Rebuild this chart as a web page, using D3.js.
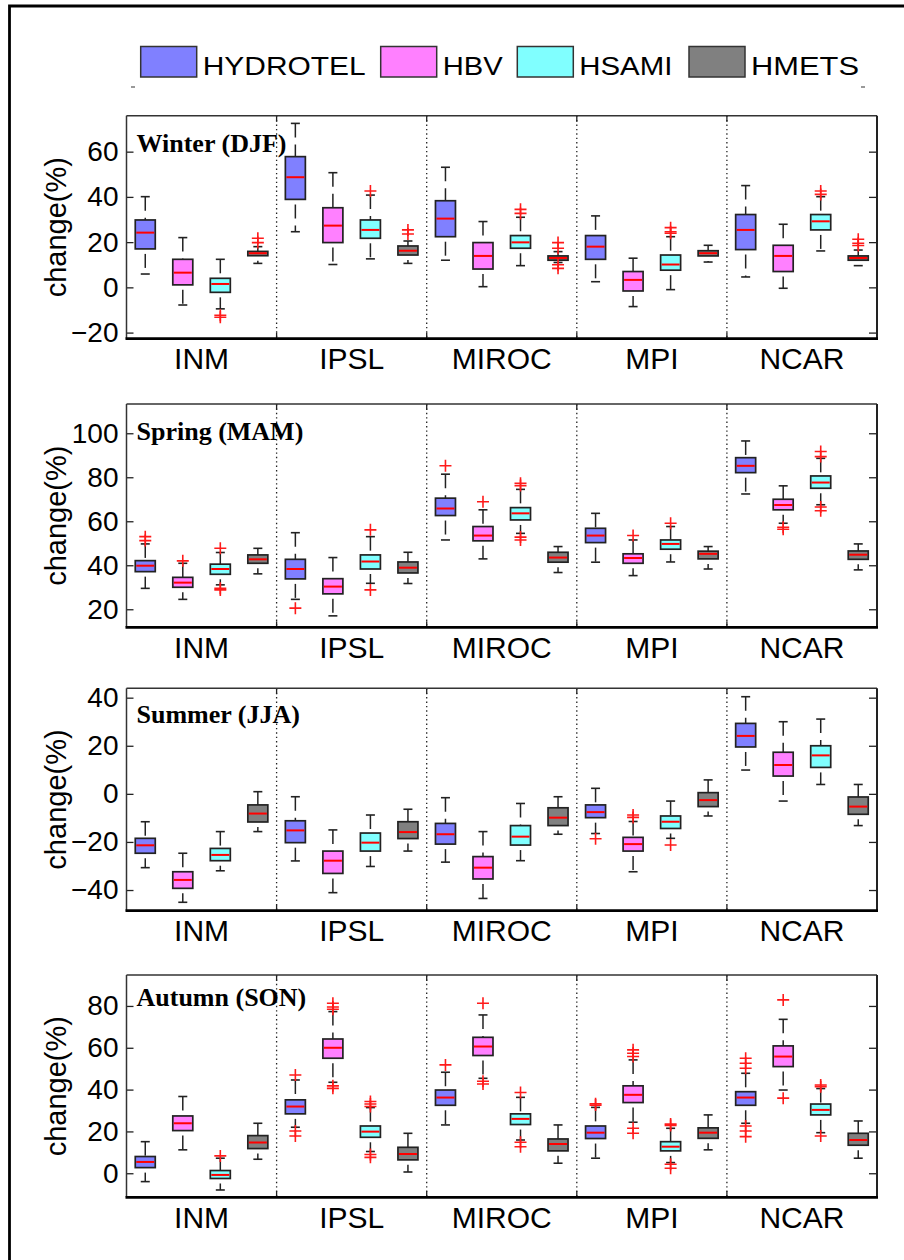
<!DOCTYPE html>
<html><head><meta charset="utf-8">
<script src="https://cdn.jsdelivr.net/npm/d3@7"></script>
<style>body{margin:0;background:#fff}</style>
</head><body><script>
// ---------- DATA ----------
const gcms = ["INM","IPSL","MIROC","MPI","NCAR"];
const hydros = ["HYDROTEL","HBV","HSAMI","HMETS"];
const hydroColors = ["#8080ff","#ff80ff","#80ffff","#808080"];
const seasonTitles = ["Winter (DJF)","Spring (MAM)","Summer (JJA)","Autumn (SON)"];
const winterTicks = [-20,0,20,40,60];
const springTicks = [20,40,60,80,100];
const summerTicks = [-40,-20,0,20,40];
const autumnTicks = [0,20,40,60,80];
const yLabel = "change(%)";
// each entry: [lower whisker, q1, median, q3, upper whisker, outliers]; order: GCM then hydro model
const winter = [
  [5.9,17.0,24.2,29.8,40.1,[]],[-7.8,1.1,6.5,12.4,22.0,[]],[-9.5,-2.2,1.5,4.0,12.4,[-12.3,-13.2]],[10.6,14.0,15.1,15.9,18.0,[19.8,21.7]],
  [24.6,38.9,48.7,57.8,72.5,[]],[10.1,19.8,27.3,35.2,50.7,[]],[12.6,21.7,25.4,29.8,40.8,[42.6]],[10.6,14.3,16.2,18.3,20.5,[23.6,25.4]],
  [12.0,22.4,30.4,38.3,53.1,[]],[0.3,8.1,13.9,19.8,29.1,[]],[9.6,17.3,19.9,22.9,31.0,[32.7,34.5]],[11.0,12.0,13.0,13.9,15.8,[17.3,19.8,10.0,8.4]],
  [2.5,12.4,18.0,22.9,31.6,[]],[-8.5,-1.6,3.3,7.0,12.9,[]],[-1.0,7.6,10.1,14.3,22.4,[23.9,24.6,26.4]],[11.2,13.9,15.1,16.2,18.6,[]],
  [4.6,16.7,25.4,32.2,45.0,[]],[-0.4,7.0,13.9,18.6,27.9,[]],[16.1,25.4,29.2,32.2,40.1,[41.1,42.6]],[9.6,12.0,13.0,13.9,16.5,[18.5,19.5,21.3]]
];
const spring = [
  [29.5,37.1,39.8,42.1,49.7,[51.2,53.0]],[24.5,30.0,32.1,34.5,40.9,[42.0]],[31.1,35.9,38.3,40.5,45.8,[47.7,29.5,28.8]],[36.1,40.9,42.7,44.7,47.7,[]],
  [24.5,33.8,38.3,42.7,54.8,[20.5]],[17.0,27.0,30.3,33.9,43.5,[]],[31.8,38.3,41.7,44.7,53.0,[56.1,28.8]],[31.7,36.5,38.9,41.5,45.9,[]],
  [51.5,62.6,65.8,70.5,81.4,[85.2]],[42.9,51.1,53.5,57.6,65.2,[68.9]],[54.5,60.6,63.6,66.2,74.5,[76.2,77.3,52.8,51.5]],[36.7,41.4,43.5,45.9,48.5,[]],
  [41.4,50.3,53.5,56.8,63.6,[]],[35.3,40.9,43.3,45.2,51.5,[53.5]],[41.5,47.3,49.7,51.5,57.6,[59.1]],[38.3,42.9,45.2,46.4,48.5,[]],
  [72.4,82.1,85.2,88.9,96.5,[]],[59.1,65.2,67.4,70.0,76.1,[57.3,56.4]],[67.5,75.0,77.6,80.6,88.6,[89.4,91.7,66.5,64.8]],[37.9,42.7,44.8,46.5,49.7,[]]
];
const summer = [
  [-30.7,-24.7,-21.4,-18.5,-11.6,[]],[-45.1,-39.3,-35.8,-32.4,-24.7,[]],[-32.0,-27.8,-25.4,-22.7,-15.7,[]],[-15.7,-11.7,-8.2,-4.6,0.9,[]],
  [-27.9,-20.3,-15.2,-11.2,-1.2,[]],[-41.1,-33.1,-27.8,-23.8,-15.0,[]],[-30.2,-23.8,-20.3,-16.3,-8.8,[]],[-23.8,-18.6,-15.9,-11.6,-6.4,[]],
  [-28.4,-20.9,-16.8,-12.3,-1.6,[]],[-43.5,-35.4,-30.7,-26.1,-15.7,[]],[-27.8,-21.3,-17.8,-13.2,-4.0,[]],[-16.8,-13.2,-9.9,-5.8,-1.2,[]],
  [-16.5,-9.9,-7.6,-4.6,2.3,[-18.7]],[-32.4,-23.8,-20.9,-18.1,-11.5,[-8.8,-9.8]],[-18.5,-14.4,-11.6,-9.2,-3.0,[-21.3]],[-9.2,-5.3,-2.6,0.5,5.8,[]],
  [9.9,19.5,24.1,29.3,40.4,[]],[-3.0,7.4,12.0,17.3,30.0,[]],[3.9,11.0,16.0,20.0,31.1,[]],[-13.2,-8.5,-5.3,-1.3,3.9,[]]
];
const autumn = [
  [-4.0,2.7,5.4,8.0,15.1,[]],[11.2,20.4,23.9,27.4,36.7,[]],[-8.0,-2.5,-0.8,1.3,7.2,[8.3]],[6.7,11.8,14.7,18.0,23.9,[]],
  [22.0,28.4,31.9,35.1,44.6,[47.0,20.2,17.8]],[43.5,55.0,60.0,64.2,77.3,[78.4,79.5,81.3,41.8,40.6]],[10.4,17.2,19.9,22.6,31.4,[31.9,33.1,34.3,9.0,7.6]],[0.6,6.4,9.2,12.4,19.1,[]],
  [23.1,32.5,36.2,39.8,48.3,[51.8]],[45.4,56.3,60.6,65.0,75.7,[81.3,44.0,42.7]],[15.9,23.3,26.0,28.4,36.3,[38.6,14.8,12.7]],[4.8,10.7,14.0,16.4,23.1,[]],
  [7.2,16.6,19.4,22.6,31.5,[32.6,33.2]],[24.4,33.8,37.5,41.8,54.2,[55.8,57.4,59.0,21.5,19.1]],[5.1,10.7,12.7,15.1,21.5,[22.8,23.5,4.3,2.4]],[11.2,16.7,19.4,21.7,27.9,[]],
  [23.9,32.5,36.2,39.0,47.8,[50.2,52.6,55.0,22.6,20.2,17.5]],[39.8,51.0,55.8,60.9,73.6,[82.9,35.9]],[19.4,27.9,30.3,33.1,40.5,[41.4,42.2,17.8]],[7.2,13.4,15.9,19.1,25.0,[]]
];
const seasonData = [winter, spring, summer, autumn];
const seasonTicks = [winterTicks, springTicks, summerTicks, autumnTicks];
const yDomains = [[-22.7,75.9],[11.8,113.3],[-48.6,43.9],[-11.5,94.8]];

// ---------- LAYOUT ----------
const W = 904, H = 1260;
const plotLeft = 126.5, plotRight = 877;
const panelTops = [115.7, 404, 688.3, 975];
const panelBottoms = [338.7, 627.3, 910.7, 1197.3];
const titleOffsets = [36, 36, 35, 31];
const boxW = 20, capW = 9;
const sansFont = "'Liberation Sans', Arial, Helvetica, sans-serif";
const serifFont = "'Liberation Serif', 'Times New Roman', serif";

const svg = d3.select("body").append("svg")
  .attr("width", W).attr("height", H)
  .style("background", "#fff");

// outer frame (only left & top visible in reference)
svg.append("path").attr("d", `M9.5,${H+5} V6 H${W+5}`)
  .attr("fill","none").attr("stroke","#000").attr("stroke-width",2.8);

// ---------- LEGEND ----------
const legendBoxX = [140.7, 380.7, 517.3, 689];
const legendTextW = [163, 60, 93, 108];
const lg = svg.append("g");
hydros.forEach((h, i) => {
  lg.append("rect").attr("x", legendBoxX[i]).attr("y", 46.5).attr("width", 56).attr("height", 30.5)
    .attr("fill", hydroColors[i]).attr("stroke", "#333").attr("stroke-width", 1.5);
  lg.append("text").attr("x", legendBoxX[i] + 62).attr("y", 75)
    .attr("font-family", sansFont).attr("font-size", 26)
    .attr("textLength", legendTextW[i]).attr("lengthAdjust", "spacingAndGlyphs")
    .attr("fill", "#000").text(h);
});
[[131, 135], [861, 865]].forEach(([a, b]) => {
  lg.append("line").attr("x1", a).attr("x2", b).attr("y1", 87).attr("y2", 87)
    .attr("stroke", "#555").attr("stroke-width", 1.2);
});

// ---------- PANELS ----------
const xGcm = d3.scaleBand().domain(gcms).range([plotLeft, plotRight]).paddingInner(0).paddingOuter(0);
const xHydro = d3.scaleBand().domain(hydros).range([0, xGcm.bandwidth()]).padding(0);

seasonData.forEach((data, p) => {
  const top = panelTops[p], bottom = panelBottoms[p];
  const y = d3.scaleLinear().domain(yDomains[p]).range([bottom, top]);
  const g = svg.append("g");

  // group separators (dotted)
  gcms.slice(1).forEach(gc => {
    const xs = xGcm(gc);
    g.append("line").attr("x1", xs).attr("x2", xs).attr("y1", top).attr("y2", bottom)
      .attr("stroke", "#222").attr("stroke-width", 1.3).attr("stroke-dasharray", "1.4,3");
    g.append("line").attr("x1", xs).attr("x2", xs).attr("y1", bottom).attr("y2", bottom - 6)
      .attr("stroke", "#222").attr("stroke-width", 1.3);
    g.append("line").attr("x1", xs).attr("x2", xs).attr("y1", top).attr("y2", top + 6)
      .attr("stroke", "#222").attr("stroke-width", 1.3);
  });

  // y axes (left with labels, right ticks only)
  const ticks = seasonTicks[p];
  const yl = g.append("g").attr("transform", `translate(${plotLeft},0)`)
    .call(d3.axisLeft(y).tickValues(ticks).tickSizeInner(-7).tickSizeOuter(0).tickPadding(8));
  yl.select(".domain").remove();
  yl.selectAll(".tick line").attr("stroke", "#222").attr("stroke-width", 1.3);
  yl.selectAll(".tick text").attr("font-family", sansFont).attr("font-size", 28).attr("fill", "#000");
  const yr = g.append("g").attr("transform", `translate(${plotRight},0)`)
    .call(d3.axisRight(y).tickValues(ticks).tickSizeInner(-8).tickSizeOuter(0).tickFormat(""));
  yr.select(".domain").remove();
  yr.selectAll(".tick line").attr("stroke", "#222").attr("stroke-width", 1.3);

  // frame
  g.append("line").attr("x1", plotLeft).attr("x2", plotRight).attr("y1", top).attr("y2", top)
    .attr("stroke", "#333").attr("stroke-width", 1.6);
  g.append("line").attr("x1", plotRight).attr("x2", plotRight).attr("y1", top).attr("y2", bottom)
    .attr("stroke", "#222").attr("stroke-width", 2);
  g.append("line").attr("x1", plotLeft).attr("x2", plotLeft).attr("y1", top).attr("y2", bottom)
    .attr("stroke", "#333").attr("stroke-width", 1.5);
  g.append("line").attr("x1", plotLeft - 1).attr("x2", plotRight + 1).attr("y1", bottom).attr("y2", bottom)
    .attr("stroke", "#000").attr("stroke-width", 2.8);

  // x category labels
  gcms.forEach(gc => {
    g.append("text").attr("x", xGcm(gc) + xGcm.bandwidth() / 2).attr("y", bottom + 30.6)
      .attr("text-anchor", "middle").attr("font-family", sansFont).attr("font-size", 30)
      .attr("fill", "#000").text(gc);
  });

  // y label
  const cy = (top + bottom) / 2;
  g.append("text").attr("transform", `translate(66,${cy}) rotate(-90)`)
    .attr("text-anchor", "middle").attr("font-family", sansFont).attr("font-size", 29)
    .attr("fill", "#000").text(yLabel);

  // season title
  g.append("text").attr("x", 136.5).attr("y", top + titleOffsets[p])
    .attr("font-family", serifFont).attr("font-weight", "bold").attr("font-size", 26)
    .attr("fill", "#000").text(seasonTitles[p]);

  // boxes
  data.forEach((d, k) => {
    const gc = gcms[Math.floor(k / 4)], hi = k % 4;
    const cx = xGcm(gc) + xHydro(hydros[hi]) + xHydro.bandwidth() / 2;
    const [lo, q1, med, q3, up, outs] = d;
    const bg = g.append("g");
    // whiskers
    bg.append("line").attr("x1", cx).attr("x2", cx).attr("y1", y(up)).attr("y2", y(q3))
      .attr("stroke", "#222").attr("stroke-width", 1.5).attr("stroke-dasharray", "14,7");
    bg.append("line").attr("x1", cx).attr("x2", cx).attr("y1", y(q1)).attr("y2", y(lo))
      .attr("stroke", "#222").attr("stroke-width", 1.5).attr("stroke-dasharray", "14,7").attr("stroke-dashoffset", 16);
    [up, lo].forEach(v => {
      bg.append("line").attr("x1", cx - capW / 2).attr("x2", cx + capW / 2).attr("y1", y(v)).attr("y2", y(v))
        .attr("stroke", "#222").attr("stroke-width", 1.6);
    });
    // box
    bg.append("rect").attr("x", cx - boxW / 2).attr("y", y(q3)).attr("width", boxW).attr("height", y(q1) - y(q3))
      .attr("fill", hydroColors[hi]).attr("stroke", "#222").attr("stroke-width", 1.7);
    // median
    bg.append("line").attr("x1", cx - boxW / 2 + 1).attr("x2", cx + boxW / 2 - 1).attr("y1", y(med)).attr("y2", y(med))
      .attr("stroke", "#f00").attr("stroke-width", 2);
    // outliers
    outs.forEach(o => {
      const oy = y(o);
      bg.append("path").attr("d", `M${cx - 6},${oy} H${cx + 6} M${cx},${oy - 6} V${oy + 6}`)
        .attr("stroke", "#ff1a1a").attr("stroke-width", 1.6).attr("fill", "none");
    });
  });
});
</script></body></html>
